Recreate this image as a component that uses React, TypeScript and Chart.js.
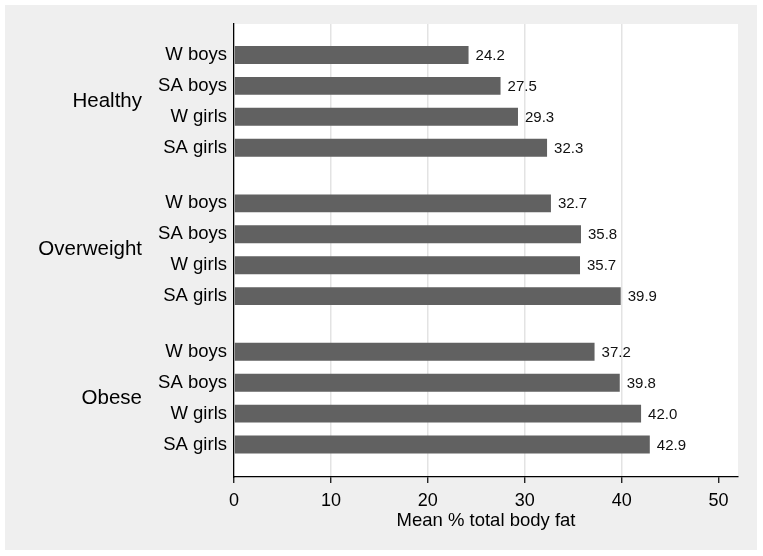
import React, { useEffect, useRef } from "react";
import { Chart, registerables } from "chart.js";

Chart.register(...registerables);

const groups = ["Healthy", "Overweight", "Obese"];
const subgroups = ["W boys", "SA boys", "W girls", "SA girls"];
const healthy = [24.2, 27.5, 29.3, 32.3];
const overweight = [32.7, 35.8, 35.7, 39.9];
const obese = [37.2, 39.8, 42.0, 42.9];
// slot positions of the bars on the vertical axis (gap between groups)
const barSlots = [0, 1, 2, 3, 4.8, 5.8, 6.8, 7.8, 9.6, 10.6, 11.6, 12.6];
const groupSlots = [1.5, 6.3, 11.1];
const xTicks = [0, 10, 20, 30, 40, 50];
const xTitle = "Mean % total body fat";

const FONT = "'Liberation Sans', Arial, sans-serif";

export default function App() {
  const ref = useRef<HTMLCanvasElement | null>(null);
  useEffect(() => {
    const canvas = ref.current;
    if (!canvas) return;
    const values = [...healthy, ...overweight, ...obese];
    const barLabels = [...subgroups, ...subgroups, ...subgroups];
    const points = values.map((v, i) => ({ x: v, y: barSlots[i] }));

    const bgPlugin = {
      id: "bg",
      beforeDraw(chart: any) {
        const { ctx, chartArea } = chart;
        ctx.save();
        ctx.fillStyle = "#ffffff";
        ctx.fillRect(0, 0, chart.width, chart.height);
        ctx.fillStyle = "#efefef";
        ctx.fillRect(5, 5, chart.width - 11, chart.height - 11);
        ctx.fillStyle = "#ffffff";
        ctx.fillRect(chartArea.left, chartArea.top, chartArea.right - chartArea.left, chartArea.bottom - chartArea.top);
        ctx.restore();
      },
    };

    const valuePlugin = {
      id: "vals",
      afterDatasetsDraw(chart: any) {
        const { ctx } = chart;
        const meta = chart.getDatasetMeta(0);
        ctx.save();
        ctx.font = `15px ${FONT}`;
        ctx.fillStyle = "#111";
        ctx.textAlign = "left";
        ctx.textBaseline = "middle";
        meta.data.forEach((el: any, i: number) => {
          ctx.fillText(values[i].toFixed(1), el.x + 7, el.y + 1);
        });
        ctx.restore();
      },
    };

    const yCommon = {
      type: "linear",
      position: "left",
      reverse: true,
      min: -1,
      max: 13.65,
      offset: false,
    };

    const chart = new Chart(canvas, {
      type: "bar",
      data: {
        datasets: [
          {
            data: points as any,
            backgroundColor: "#616161",
            borderWidth: 0,
            barPercentage: 0.58,
            categoryPercentage: 1,
          },
        ],
      },
      plugins: [bgPlugin, valuePlugin],
      options: {
        indexAxis: "y",
        animation: false,
        responsive: false,
        maintainAspectRatio: false,
        layout: { padding: { left: 0, top: 24, right: 25, bottom: 0 } },
        plugins: { legend: { display: false }, tooltip: { enabled: false }, title: { display: false } },
        scales: {
          x: {
            type: "linear",
            position: "bottom",
            min: 0,
            max: 52,
            offset: false,
            afterBuildTicks: (axis: any) => {
              axis.ticks = xTicks.map((v) => ({ value: v }));
            },
            afterFit: (axis: any) => {
              axis.height = 79;
            },
            grid: {
              offset: false,
              color: (c: any) => (c.tick && (c.tick.value === 0 || c.tick.value === 50) ? "rgba(0,0,0,0)" : "#e3e3e3"),
              lineWidth: 1.5,
              tickColor: "#000",
              tickWidth: 1.2,
              tickLength: 6,
              drawTicks: true,
            },
            border: { display: true, color: "#000", width: 1.3 },
            ticks: {
              color: "#000",
              font: { family: FONT, size: 18 },
              padding: 7,
              maxRotation: 0,
              callback: (v: any) => String(v),
            },
            title: {
              display: true,
              text: xTitle,
              color: "#000",
              font: { family: FONT, size: 18.5 },
              padding: { top: 0, bottom: 24 },
            },
          },
          y: {
            ...yCommon,
            weight: 0,
            afterBuildTicks: (axis: any) => {
              axis.ticks = barSlots.map((v) => ({ value: v }));
            },
            afterFit: (axis: any) => {
              axis.width = 84;
            },
            grid: { display: false, drawTicks: false, offset: false },
            border: { display: true, color: "#000", width: 1.3 },
            ticks: {
              color: "#000",
              font: { family: FONT, size: 18.5 },
              padding: 7,
              autoSkip: false,
              callback: (_v: any, i: number) => barLabels[i],
            },
          },
          g: {
            ...yCommon,
            axis: "y",
            weight: 1,
            afterBuildTicks: (axis: any) => {
              axis.ticks = groupSlots.map((v) => ({ value: v }));
            },
            afterFit: (axis: any) => {
              axis.width = 150;
            },
            grid: { display: false, drawTicks: false, offset: false },
            border: { display: false },
            ticks: {
              color: "#000",
              font: { family: FONT, size: 20.5 },
              padding: 8,
              autoSkip: false,
              callback: (_v: any, i: number) => groups[i],
            },
          },
        },
      },
    } as any);
    return () => chart.destroy();
  }, []);

  return (
    <div style={{ position: "fixed", left: 0, top: 0, width: 763, height: 556, background: "#fff" }}>
      <canvas ref={ref} width={763} height={556} style={{ width: 763, height: 556, display: "block" }} />
    </div>
  );
}
